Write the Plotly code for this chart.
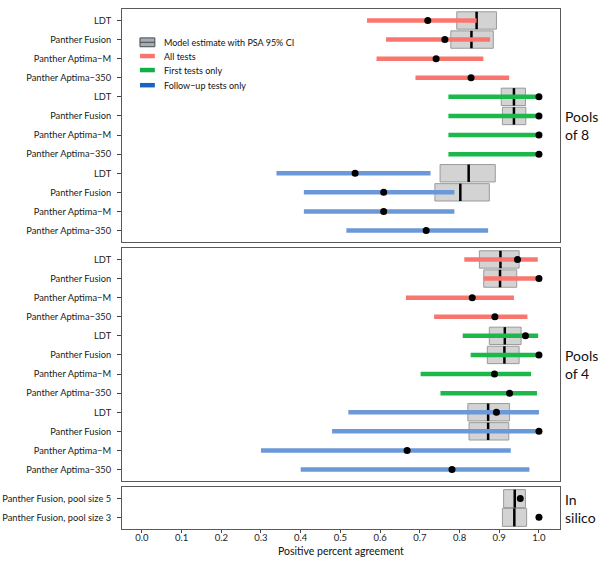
import plotly.graph_objects as go

# ---------------- data ----------------
tests = ["LDT", "Panther Fusion", "Panther Aptima\u2212M", "Panther Aptima\u2212350"]
groups = ["All tests", "First tests only", "Follow\u2212up tests only"]
model_label = "Model estimate with PSA 95% CI"

# Pools of 8: observed estimate and 95% CI per group (order of tests)
p8_all_est = [0.720, 0.763, 0.741, 0.829]
p8_all_lo = [0.567, 0.615, 0.591, 0.689]
p8_all_hi = [0.843, 0.877, 0.860, 0.925]
p8_first_est = [1.0, 1.0, 1.0, 1.0]
p8_first_lo = [0.772, 0.772, 0.772, 0.772]
p8_first_hi = [1.0, 1.0, 1.0, 1.0]
p8_fu_est = [0.537, 0.609, 0.609, 0.716]
p8_fu_lo = [0.339, 0.408, 0.408, 0.515]
p8_fu_hi = [0.727, 0.787, 0.787, 0.872]

# Pools of 8: model estimates (LDT, Panther Fusion) per group
p8_mod_all_lo = [0.793, 0.778]
p8_mod_all_med = [0.843, 0.830]
p8_mod_all_hi = [0.893, 0.885]
p8_mod_first_lo = [0.905, 0.908]
p8_mod_first_med = [0.937, 0.937]
p8_mod_first_hi = [0.966, 0.967]
p8_mod_fu_lo = [0.751, 0.738]
p8_mod_fu_med = [0.823, 0.802]
p8_mod_fu_hi = [0.890, 0.875]

# Pools of 4
p4_all_est = [0.946, 1.0, 0.832, 0.889]
p4_all_lo = [0.812, 0.861, 0.665, 0.736]
p4_all_hi = [0.997, 1.0, 0.937, 0.971]
p4_first_est = [0.966, 1.0, 0.888, 0.926]
p4_first_lo = [0.808, 0.828, 0.702, 0.752]
p4_first_hi = [0.998, 1.0, 0.980, 0.995]
p4_fu_est = [0.893, 1.0, 0.668, 0.781]
p4_fu_lo = [0.520, 0.479, 0.300, 0.400]
p4_fu_hi = [1.0, 1.0, 0.929, 0.976]

p4_mod_all_lo = [0.850, 0.861]
p4_mod_all_med = [0.903, 0.902]
p4_mod_all_hi = [0.950, 0.944]
p4_mod_first_lo = [0.875, 0.870]
p4_mod_first_med = [0.914, 0.913]
p4_mod_first_hi = [0.955, 0.950]
p4_mod_fu_lo = [0.821, 0.824]
p4_mod_fu_med = [0.872, 0.872]
p4_mod_fu_hi = [0.926, 0.924]

# In silico
silico_labels = ["Panther Fusion, pool size 5", "Panther Fusion, pool size 3"]
silico_est = [0.953, 1.0]
silico_mod_lo = [0.911, 0.908]
silico_mod_med = [0.939, 0.938]
silico_mod_hi = [0.966, 0.969]

x_ticks = [0.0, 0.1, 0.2, 0.3, 0.4, 0.5, 0.6, 0.7, 0.8, 0.9, 1.0]

# ---------------- style ----------------
line_colors = ["#F8766D", "#1DB84A", "#6B98D8"]
legend_colors = ["#F8766D", "#12AE4A", "#1863C2"]
BOX_FILL = "#D3D3D3"
BOX_LINE = "#9A9A9A"
FONT = "Lato"
HALF = 0.455

fig = go.Figure()


def add_panel(yref, xref, est, lo, hi, mod_lo, mod_med, mod_hi, mod_rows, colors_per_row, half, width):
    # model boxes
    fig.add_trace(go.Bar(
        orientation="h", y=mod_rows, x=[h - l for l, h in zip(mod_lo, mod_hi)], base=mod_lo,
        width=width, marker=dict(color=BOX_FILL, line=dict(color=BOX_LINE, width=1)),
        xaxis=xref, yaxis=yref, showlegend=False, hoverinfo="skip"))
    # medians
    mx, my = [], []
    for r, m in zip(mod_rows, mod_med):
        mx += [m, m, None]
        my += [r - half, r + half, None]
    fig.add_trace(go.Scatter(x=mx, y=my, mode="lines", line=dict(color="black", width=2.5),
                             xaxis=xref, yaxis=yref, showlegend=False, hoverinfo="skip"))
    # CI lines, one trace per colour
    if lo is not None:
        for c in sorted(set(colors_per_row)):
            lx, ly = [], []
            for r, (l, h, cc) in enumerate(zip(lo, hi, colors_per_row)):
                if cc == c:
                    lx += [l, h, None]
                    ly += [r, r, None]
            fig.add_trace(go.Scatter(x=lx, y=ly, mode="lines", line=dict(color=line_colors[c], width=4.5),
                                     xaxis=xref, yaxis=yref, showlegend=False, hoverinfo="skip"))
    # points
    fig.add_trace(go.Scatter(x=est, y=list(range(len(est))), mode="markers",
                             marker=dict(color="black", size=7),
                             xaxis=xref, yaxis=yref, showlegend=False))


rows12 = list(range(12))
color_rows = [0] * 4 + [1] * 4 + [2] * 4
mod_rows12 = [0, 1, 4, 5, 8, 9]

add_panel("y", "x",
          p8_all_est + p8_first_est + p8_fu_est,
          p8_all_lo + p8_first_lo + p8_fu_lo,
          p8_all_hi + p8_first_hi + p8_fu_hi,
          p8_mod_all_lo + p8_mod_first_lo + p8_mod_fu_lo,
          p8_mod_all_med + p8_mod_first_med + p8_mod_fu_med,
          p8_mod_all_hi + p8_mod_first_hi + p8_mod_fu_hi,
          mod_rows12, color_rows, HALF, 2 * HALF)

add_panel("y2", "x2",
          p4_all_est + p4_first_est + p4_fu_est,
          p4_all_lo + p4_first_lo + p4_fu_lo,
          p4_all_hi + p4_first_hi + p4_fu_hi,
          p4_mod_all_lo + p4_mod_first_lo + p4_mod_fu_lo,
          p4_mod_all_med + p4_mod_first_med + p4_mod_fu_med,
          p4_mod_all_hi + p4_mod_first_hi + p4_mod_fu_hi,
          mod_rows12, color_rows, HALF, 2 * HALF)

add_panel("y3", "x3", silico_est, None, None,
          silico_mod_lo, silico_mod_med, silico_mod_hi, [0, 1], [], 0.48, 0.96)

# ---------------- layout ----------------
H_PLOT = 520.0
def dom(top_px, bot_px):
    return [(529 - bot_px) / H_PLOT, (529 - top_px) / H_PLOT]

axis_common = dict(showline=True, mirror=True, linecolor="#5A5A5A", linewidth=1,
                   showgrid=False, zeroline=False, automargin=False)
xr = [-0.05, 1.053]
ytick_common = dict(axis_common, ticks="outside", ticklen=4, tickcolor="#444", ticklabelstandoff=4)

layout_axes = dict(
    xaxis=dict(axis_common, range=xr, anchor="y", showticklabels=False, ticks=""),
    xaxis2=dict(axis_common, range=xr, anchor="y2", showticklabels=False, ticks=""),
    xaxis3=dict(axis_common, range=xr, anchor="y3", tickvals=x_ticks, tickformat=".1f",
                ticks="outside", ticklen=3, tickcolor="#444", ticklabelstandoff=-3,
                tickfont=dict(family=FONT, size=9.5, color="#222")),
    yaxis=dict(ytick_common, domain=dom(9, 242), anchor="x", range=[11.6, -0.6],
               tickvals=rows12, ticktext=tests * 3,
               tickfont=dict(family=FONT, size=9.3, color="#1A1A1A")),
    yaxis2=dict(ytick_common, domain=dom(248, 481), anchor="x2", range=[11.6, -0.6],
                tickvals=rows12, ticktext=tests * 3,
                tickfont=dict(family=FONT, size=9.3, color="#1A1A1A")),
    yaxis3=dict(ytick_common, domain=dom(487, 529), anchor="x3", range=[1.62, -0.62],
                tickvals=[0, 1], ticktext=silico_labels,
                tickfont=dict(family=FONT, size=9.3, color="#1A1A1A")),
)

fig.update_layout(
    width=600, height=561,
    margin=dict(l=122, r=40, t=9, b=32),
    paper_bgcolor="white", plot_bgcolor="white",
    barmode="overlay", showlegend=False,
    font=dict(family=FONT, color="#111"),
    **layout_axes,
)

# x-axis title
fig.add_annotation(text="Positive percent agreement", xref="x3 domain", x=0.5, yref="paper", y=0,
                   yshift=-22, yanchor="middle", showarrow=False,
                   font=dict(family=FONT, size=10.5, color="#111"))

# side labels
side = [("Pools<br>of 8", "y domain"), ("Pools<br>of 4", "y2 domain"), ("In<br>silico", "y3 domain")]
for txt, yr in side:
    fig.add_annotation(text=txt, xref="paper", x=1.0, xshift=3, xanchor="left", yref=yr, y=0.5,
                       yanchor="middle", showarrow=False, align="left",
                       font=dict(family=FONT, size=14, color="#111"))

# legend (drawn as a key inside the top panel)
leg_y = [0.857, 0.798, 0.738, 0.673]
kx0, kx1, tx = 0.041, 0.075, 0.091
fig.add_shape(type="rect", xref="x domain", yref="y domain", x0=kx0, x1=kx1,
              y0=leg_y[0] - 0.019, y1=leg_y[0] + 0.019,
              fillcolor="#A3ADB5", line=dict(color="#4A4A4A", width=1))
fig.add_shape(type="line", xref="x domain", yref="y domain", x0=kx0, x1=kx1,
              y0=leg_y[0], y1=leg_y[0], line=dict(color="#4A4A4A", width=1))
for yy, c in zip(leg_y[1:], legend_colors):
    fig.add_shape(type="line", xref="x domain", yref="y domain", x0=kx0, x1=kx1,
                  y0=yy, y1=yy, line=dict(color=c, width=4.5))
for yy, label in zip(leg_y, [model_label] + groups):
    fig.add_annotation(text=label, xref="x domain", x=tx, xanchor="left", yref="y domain", y=yy,
                       yanchor="middle", showarrow=False, font=dict(family=FONT, size=9, color="#111"))

fig.write_html("out.html", config={"displayModeBar": False},
               post_script="document.body.style.margin='0';")
